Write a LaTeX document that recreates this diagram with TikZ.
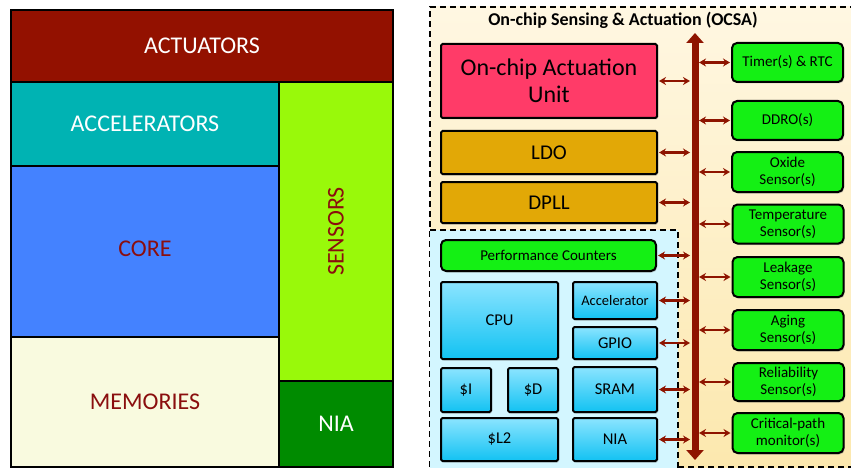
\documentclass[tikz,border=0pt]{standalone}
\usepackage{fontspec}
\setmainfont{Carlito}
\usetikzlibrary{arrows.meta,shadows,calc}

\definecolor{actred}{HTML}{931100}
\definecolor{acccyan}{HTML}{00B3B3}
\definecolor{coreblue}{HTML}{4482FF}
\definecolor{memcream}{HTML}{F9FADF}
\definecolor{senslime}{HTML}{99F90A}
\definecolor{niagreen}{HTML}{008B00}
\definecolor{labelred}{HTML}{8A0E0E}
\definecolor{ocaupink}{HTML}{FF3B68}
\definecolor{gold}{HTML}{E2A806}
\definecolor{sensgreen}{HTML}{14F014}
\definecolor{busred}{HTML}{8E1400}
\definecolor{skytop}{HTML}{8BE4FF}
\definecolor{skybot}{HTML}{12C2F2}
\definecolor{creamtop}{HTML}{FFF7E2}
\definecolor{creambot}{HTML}{FCE8AE}
\definecolor{icebg}{HTML}{D3F6FF}

\tikzset{
  x=1pt, y=-1pt,
  tile/.style={draw=black, line width=2.6pt, inner sep=0pt, outer sep=0pt,
    font=\fontsize{24}{28}\selectfont},
  blk/.style={draw=black, line width=2pt, inner sep=0pt, outer sep=0pt,
    rounded corners=1.5pt, align=center,
    drop shadow={shadow xshift=1.2pt, shadow yshift=-1.5pt, opacity=0.35}},
  skyblk/.style={blk, top color=skytop, bottom color=skybot,
    font=\fontsize{16.5}{19}\selectfont},
  greenblk/.style={blk, fill=sensgreen, rounded corners=5pt,
    font=\fontsize{15}{17}\selectfont},
  link/.style={draw=busred, line width=2.2pt,
    {Stealth[length=7pt,width=8pt]}-{Stealth[length=7pt,width=8pt]}},
  busline/.style={draw=busred, line width=7pt,
    {Triangle[length=10pt,width=17pt]}-{Triangle[length=10pt,width=17pt]}},
}

\begin{document}
\begin{tikzpicture}
\useasboundingbox (0,0) rectangle (851,468);

% ---------- Floor plan ----------
\node[tile, fill=actred, text=white, minimum width=382, minimum height=72]
  (actuators) at (202,46) {ACTUATORS};
\node[tile, fill=acccyan, text=white, minimum width=268, minimum height=84]
  (accel) at (145,124) {ACCELERATORS};
\node[tile, fill=coreblue, text=labelred, minimum width=268, minimum height=171]
  (core) at (145,251.5) {\raisebox{6pt}{CORE}};
\node[tile, fill=memcream, text=labelred, minimum width=268, minimum height=130]
  (mem) at (145,402) {MEMORIES};
\node[tile, fill=senslime, text=labelred, minimum width=114, minimum height=299]
  (sensors) at (336,231.5) {\rotatebox{90}{SENSORS}};
\node[tile, fill=niagreen, text=white, minimum width=114, minimum height=86]
  (nia) at (336,424) {NIA};

% ---------- OCSA region ----------
\shade[top color=creamtop, bottom color=creambot] (430,7) rectangle (853,467);
\draw[line width=1.6pt, dash pattern=on 6pt off 4pt] (430,467) -- (430,7) -- (853,7);
\draw[line width=1.6pt, dash pattern=on 6pt off 4pt] (678,467) -- (853,467);
\node[font=\bfseries\fontsize{18}{21}\selectfont, anchor=center]
  (title) at (623,20) {On-chip Sensing \& Actuation (OCSA)};

% processor area
\fill[icebg] (430,230) rectangle (678,470);
\draw[line width=1.6pt, dash pattern=on 6pt off 4pt] (430,230) -- (678,230) -- (678,470);

% ---------- Actuation blocks ----------
\node[blk, fill=ocaupink, minimum width=216, minimum height=74,
  font=\fontsize{24}{27}\selectfont] (ocau) at (549,81) {On-chip Actuation\\Unit};
\node[blk, fill=gold, minimum width=216, minimum height=43,
  font=\fontsize{21}{24}\selectfont] (ldo) at (549,152.5) {LDO};
\node[blk, fill=gold, minimum width=216, minimum height=41,
  font=\fontsize{21}{24}\selectfont] (dpll) at (549,202.5) {DPLL};

% ---------- Processor blocks ----------
\node[greenblk, minimum width=215, minimum height=31] (perf) at (548.5,255.5)
  {Performance Counters};
\node[skyblk, minimum width=117, minimum height=77] (cpu) at (499.5,320.5) {CPU};
\node[skyblk, minimum width=84, minimum height=37, font=\fontsize{14.5}{16}\selectfont]
  (acc) at (615,300.5) {Accelerator};
\node[skyblk, minimum width=84, minimum height=32] (gpio) at (615,343) {GPIO};
\node[skyblk, minimum width=50, minimum height=44] (icache) at (466,390) {\$I};
\node[skyblk, minimum width=50, minimum height=44] (dcache) at (533,390) {\$D};
\node[skyblk, minimum width=84, minimum height=45] (sram) at (615,389.5) {SRAM};
\node[skyblk, minimum width=117, minimum height=43] (ltwo) at (499.5,439.5) {\$L2};
\node[skyblk, minimum width=84, minimum height=43] (pnia) at (615,439.5) {NIA};

% ---------- Sensor blocks ----------
\node[greenblk, minimum width=111, minimum height=39] (timer) at (787.5,62.5) {Timer(s) \& RTC};
\node[greenblk, minimum width=111, minimum height=39] (ddro) at (787.5,120.5) {DDRO(s)};
\node[greenblk, minimum width=111, minimum height=40] (oxide) at (787.5,172) {Oxide\\Sensor(s)};
\node[greenblk, minimum width=111, minimum height=39] (temp) at (788,224) {Temperature\\Sensor(s)};
\node[greenblk, minimum width=111, minimum height=40] (leak) at (788,277) {Leakage\\Sensor(s)};
\node[greenblk, minimum width=111, minimum height=40] (aging) at (788,330) {Aging\\Sensor(s)};
\node[greenblk, minimum width=111, minimum height=38] (relia) at (788.5,382) {Reliability\\Sensor(s)};
\node[greenblk, minimum width=111, minimum height=40] (crit) at (788,433) {Critical-path\\monitor(s)};

% ---------- Bus ----------
\coordinate (bustop) at (695,33);
\coordinate (busbot) at (695,460);
\draw[busline] (busbot) -- (bustop);
\coordinate (busL) at (690,0);
\coordinate (busR) at (699,0);

% links from actuators and processor to the bus
\foreach \b in {ocau,ldo,dpll,perf,acc,gpio,sram,pnia}
  \draw[link] ($(\b.east)+(2,0)$) -- (\b.east -| busL);
% links from the bus to the sensors
\foreach \b in {timer,ddro,oxide,temp,leak,aging,relia,crit}
  \draw[link] (\b.west -| busR) -- ($(\b.west)+(-2,0)$);
\end{tikzpicture}
\end{document}
